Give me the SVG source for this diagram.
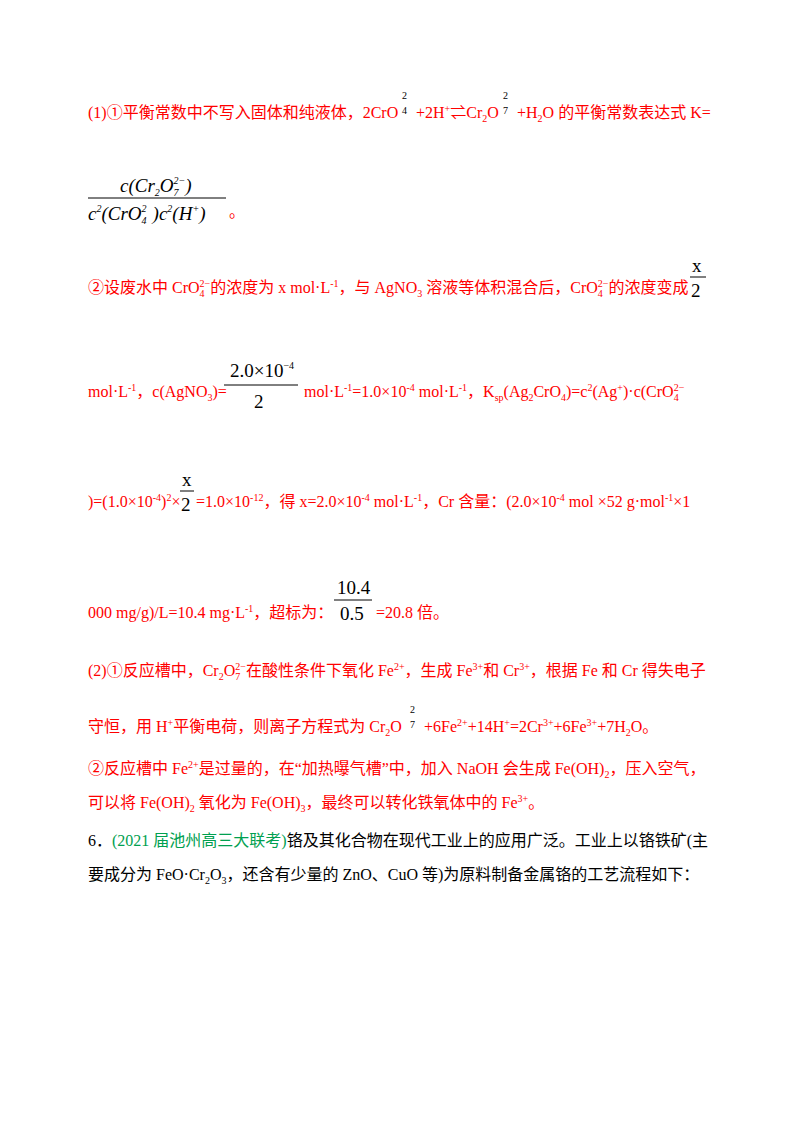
<svg xmlns="http://www.w3.org/2000/svg" width="800" height="1129" viewBox="0 0 800 1129">
<style>
text{font-family:"Liberation Serif","Noto Sans CJK SC",serif;font-size:16px;fill:#ff0000}
.k{fill:#000}
.g{fill:#00a050}
.m{font-family:"Liberation Serif",serif;font-size:19px;fill:#000}
.i{font-style:italic}
.s{font-size:10px}
line{stroke:#000;stroke-width:1}
</style>
<rect width="800" height="1129" fill="#fff"/>
<text x="88" y="118">(1)①平衡常数中不写入固体和纯液体，2CrO</text>
<text x="402" y="99" class="s" style="fill:#000">2</text>
<text x="402" y="114" class="s" style="fill:#000">4</text>
<text x="416" y="118">+2H<tspan class="s" dy="-6">+</tspan><tspan dy="6">⇌Cr</tspan><tspan class="s" dy="4">2</tspan><tspan dy="-4">O</tspan></text>
<text x="503" y="99" class="s" style="fill:#000">2</text>
<text x="503" y="114" class="s" style="fill:#000">7</text>
<text x="517" y="118">+H<tspan class="s" dy="4">2</tspan><tspan dy="-4">O 的平衡常数表达式 K=</tspan></text>
<text x="120" y="192" class="m i">c(Cr<tspan class="s" dy="4">2</tspan><tspan dy="-4">O</tspan><tspan class="s" dy="4">7</tspan><tspan class="s" dx="-5" dy="-12">2−</tspan><tspan dy="8">)</tspan></text>
<line x1="88" y1="198" x2="226" y2="198"/>
<text x="88" y="220" class="m i">c<tspan class="s" dy="-8">2</tspan><tspan dy="8">(CrO</tspan><tspan class="s" dy="4">4</tspan><tspan class="s" dx="-5" dy="-12">2</tspan><tspan dx="6" dy="8">)c</tspan><tspan class="s" dy="-8">2</tspan><tspan dy="8">(H</tspan><tspan class="s" dy="-8">+</tspan><tspan dy="8">)</tspan></text>
<text x="229" y="217">。</text>

<text x="88" y="293">②设废水中 CrO<tspan class="s" dy="4">4</tspan><tspan class="s" dx="-5" dy="-10">2−</tspan><tspan dy="6">的浓度为 x mol·L</tspan><tspan class="s" dy="-6">-1</tspan><tspan dy="6">，与 AgNO</tspan><tspan class="s" dy="4">3</tspan><tspan dy="-4"> 溶液等体积混合后，CrO</tspan><tspan class="s" dy="4">4</tspan><tspan class="s" dx="-5" dy="-10">2−</tspan><tspan dy="6">的浓度变成</tspan></text>
<text x="692" y="272" class="m">x</text>
<line x1="690" y1="277" x2="706" y2="277"/>
<text x="691" y="297" class="m">2</text>

<text x="88" y="397">mol·L<tspan class="s" dy="-6">-1</tspan><tspan dy="6">，c(AgNO</tspan><tspan class="s" dy="4">3</tspan><tspan dy="-4">)=</tspan></text>
<text x="230" y="377" class="m">2.0×10<tspan class="s" dy="-8">−4</tspan></text>
<line x1="224" y1="385" x2="298" y2="385"/>
<text x="254" y="408" class="m">2</text>
<text x="304" y="397">mol·L<tspan class="s" dy="-6">-1</tspan><tspan dy="6">=1.0×10</tspan><tspan class="s" dy="-6">-4</tspan><tspan dy="6"> mol·L</tspan><tspan class="s" dy="-6">-1</tspan><tspan dy="6">，K</tspan><tspan class="s" dy="4">sp</tspan><tspan dy="-4">(Ag</tspan><tspan class="s" dy="4">2</tspan><tspan dy="-4">CrO</tspan><tspan class="s" dy="4">4</tspan><tspan dy="-4">)=c</tspan><tspan class="s" dy="-6">2</tspan><tspan dy="6">(Ag</tspan><tspan class="s" dy="-6">+</tspan><tspan dy="6">)·c(CrO</tspan><tspan class="s" dy="4">4</tspan><tspan class="s" dx="-5" dy="-10">2−</tspan></text>

<text x="88" y="507">)=(1.0×10<tspan class="s" dy="-6">-4</tspan><tspan dy="6">)</tspan><tspan class="s" dy="-6">2</tspan><tspan dy="6">×</tspan></text>
<text x="182" y="486" class="m">x</text>
<line x1="180" y1="491" x2="194" y2="491"/>
<text x="181" y="511" class="m">2</text>
<text x="196" y="507">=1.0×10<tspan class="s" dy="-6">-12</tspan><tspan dy="6">，得 x=2.0×10</tspan><tspan class="s" dy="-6">-4</tspan><tspan dy="6"> mol·L</tspan><tspan class="s" dy="-6">-1</tspan><tspan dy="6">，Cr 含量：(2.0×10</tspan><tspan class="s" dy="-6">-4</tspan><tspan dy="6"> mol ×52 g·mol</tspan><tspan class="s" dy="-6">-1</tspan><tspan dy="6">×1</tspan></text>

<text x="88" y="618">000 mg/g)/L=10.4 mg·L<tspan class="s" dy="-6">-1</tspan><tspan dy="6">，超标为：</tspan></text>
<text x="337" y="594" class="m">10.4</text>
<line x1="334" y1="600" x2="372" y2="600"/>
<text x="340" y="620" class="m">0.5</text>
<text x="376" y="618">=20.8 倍。</text>

<text x="88" y="676">(2)①反应槽中，Cr<tspan class="s" dy="4">2</tspan><tspan dy="-4">O</tspan><tspan class="s" dy="4">7</tspan><tspan class="s" dx="-5" dy="-10">2−</tspan><tspan dy="6">在酸性条件下氧化 Fe</tspan><tspan class="s" dy="-6">2+</tspan><tspan dy="6">，生成 Fe</tspan><tspan class="s" dy="-6">3+</tspan><tspan dy="6">和 Cr</tspan><tspan class="s" dy="-6">3+</tspan><tspan dy="6">，根据 Fe 和 Cr 得失电子</tspan></text>

<text x="88" y="732">守恒，用 H<tspan class="s" dy="-6">+</tspan><tspan dy="6">平衡电荷，则离子方程式为 Cr</tspan><tspan class="s" dy="4">2</tspan><tspan dy="-4">O</tspan></text>
<text x="410" y="713" class="s" style="fill:#000">2</text>
<text x="410" y="728" class="s" style="fill:#000">7</text>
<text x="424" y="732">+6Fe<tspan class="s" dy="-6">2+</tspan><tspan dy="6">+14H</tspan><tspan class="s" dy="-6">+</tspan><tspan dy="6">=2Cr</tspan><tspan class="s" dy="-6">3+</tspan><tspan dy="6">+6Fe</tspan><tspan class="s" dy="-6">3+</tspan><tspan dy="6">+7H</tspan><tspan class="s" dy="4">2</tspan><tspan dy="-4">O。</tspan></text>

<text x="88" y="774">②反应槽中 Fe<tspan class="s" dy="-6">2+</tspan><tspan dy="6">是过量的，在“加热曝气槽”中，加入 NaOH 会生成 Fe(OH)</tspan><tspan class="s" dy="4">2</tspan><tspan dy="-4">，压入空气，</tspan></text>
<text x="88" y="808">可以将 Fe(OH)<tspan class="s" dy="4">2</tspan><tspan dy="-4"> 氧化为 Fe(OH)</tspan><tspan class="s" dy="4">3</tspan><tspan dy="-4">，最终可以转化铁氧体中的 Fe</tspan><tspan class="s" dy="-6">3+</tspan><tspan dy="6">。</tspan></text>
<text x="88" y="846" class="k">6．<tspan class="g">(2021 届池州高三大联考)</tspan>铬及其化合物在现代工业上的应用广泛。工业上以铬铁矿(主</text>
<text x="88" y="880" class="k">要成分为 FeO·Cr<tspan class="s" dy="4">2</tspan><tspan dy="-4">O</tspan><tspan class="s" dy="4">3</tspan><tspan dy="-4">，还含有少量的 ZnO、CuO 等)为原料制备金属铬的工艺流程如下：</tspan></text>
</svg>
